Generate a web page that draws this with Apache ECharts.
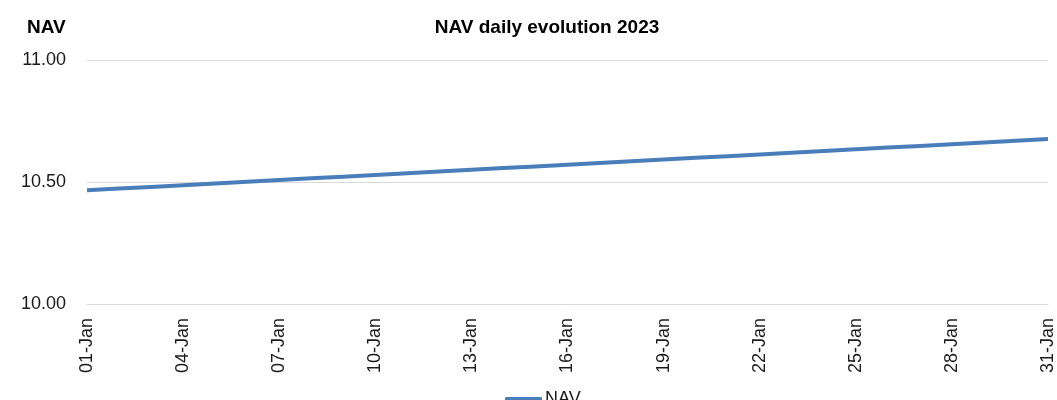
<!DOCTYPE html>
<html>
<head>
<meta charset="utf-8">
<title>NAV daily evolution 2023</title>
<script src="https://cdn.jsdelivr.net/npm/echarts@6/dist/echarts.min.js"></script>
<style>
  html, body { margin: 0; padding: 0; background: #fff; }
  #main { width: 1057px; height: 400px; }
</style>
</head>
<body>
<div id="main"></div>
<script>
// dates 01-Jan .. 31-Jan
var days = [];
for (var d = 1; d <= 31; d++) {
    days.push((d < 10 ? '0' + d : '' + d) + '-Jan');
}
// NAV values
var nav = [10.466, 10.473, 10.480, 10.487, 10.494, 10.501, 10.508, 10.515, 10.522, 10.529,
           10.536, 10.543, 10.550, 10.557, 10.564, 10.571, 10.578, 10.585, 10.592, 10.599,
           10.606, 10.613, 10.620, 10.627, 10.634, 10.641, 10.648, 10.655, 10.662, 10.669,
           10.676];
var yTicks = [10.00, 10.50, 11.00];

var chart = echarts.init(document.getElementById('main'));
var option = {
    backgroundColor: '#fff',
    animation: false,
    textStyle: { fontFamily: 'Liberation Sans, Arial, sans-serif' },
    title: [
        {
            text: 'NAV daily evolution 2023',
            left: 542, top: 13, textAlign: 'center',
            textStyle: { fontSize: 19, fontWeight: 'bold', color: '#000' }
        },
        {
            text: 'NAV',
            left: 22, top: 13,
            textStyle: { fontSize: 19, fontWeight: 'bold', color: '#000' }
        }
    ],
    legend: {
        data: [{
            name: 'NAV', icon: 'roundRect',
            itemStyle: { color: '#4a7ebb', opacity: 1 }
        }],
        left: 500, top: 385,
        itemWidth: 37, itemHeight: 4, itemGap: 4,
        textStyle: { fontSize: 18, color: '#1a1a1a', padding: [0, 0, 0, -2] }
    },
    grid: { left: 87, right: 7, top: 60, bottom: 96, containLabel: false },
    xAxis: {
        type: 'category',
        data: days,
        boundaryGap: false,
        axisLine: { lineStyle: { color: '#d9d9d9' } },
        axisTick: { show: false },
        axisLabel: {
            interval: 2, rotate: 90, margin: 14,
            fontSize: 18, color: '#1a1a1a'
        }
    },
    yAxis: {
        type: 'value',
        min: yTicks[0], max: yTicks[yTicks.length - 1], interval: 0.5,
        axisLine: { show: false },
        axisTick: { show: false },
        splitLine: { lineStyle: { color: '#d9d9d9', width: 1 } },
        axisLabel: {
            fontSize: 18, color: '#1a1a1a', margin: 21,
            formatter: function (v) { return v.toFixed(2); }
        }
    },
    series: [
        {
            name: 'NAV',
            type: 'line',
            data: nav,
            symbol: 'none',
            lineStyle: { color: '#4a7ebb', width: 4 },
            itemStyle: { color: '#4a7ebb' }
        }
    ]
};
chart.setOption(option);
</script>
</body>
</html>
